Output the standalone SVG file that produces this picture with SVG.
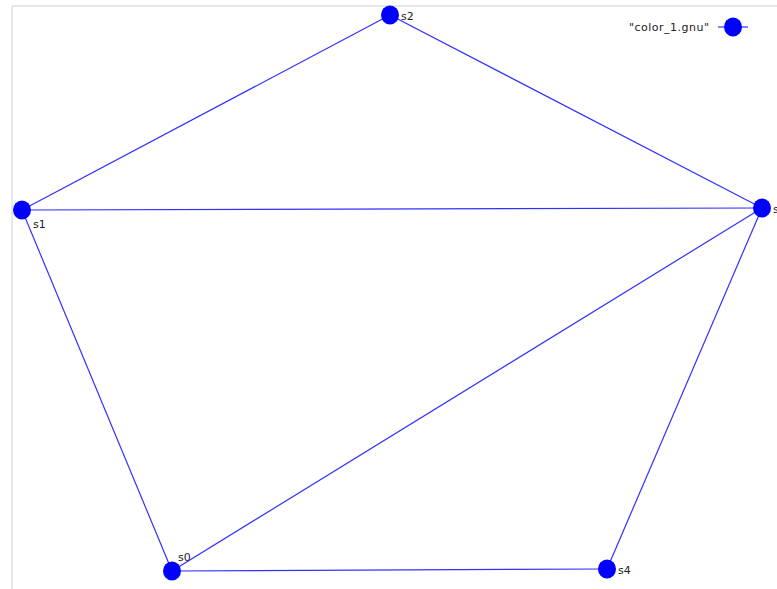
<svg xmlns="http://www.w3.org/2000/svg" width="777" height="589" viewBox="0 0 777 589">
<style>
.edge{stroke:#3030ff;stroke-width:1.2;fill:none}
.node{fill:#0000ff}
.lbl{font-family:"DejaVu Sans","Liberation Sans",sans-serif;font-size:11px;fill:#222}
</style>
<rect x="0" y="0" width="777" height="589" fill="#fff"/>
<path d="M12 6 H777 M12 6 V589" stroke="#d0d0d0" stroke-width="1" fill="none"/>
<g id="connectors">
<line class="edge" x1="22" y1="210" x2="390" y2="15"/>
<line class="edge" x1="390" y1="15" x2="762" y2="208"/>
<line class="edge" x1="22" y1="210" x2="762" y2="208"/>
<line class="edge" x1="22" y1="210" x2="172" y2="571"/>
<line class="edge" x1="172" y1="571" x2="762" y2="208"/>
<line class="edge" x1="762" y1="208" x2="607" y2="569"/>
<line class="edge" x1="172" y1="571" x2="607" y2="569"/>
</g>
<g id="s0"><ellipse class="node" cx="172" cy="571" rx="9" ry="9.5"/><text class="lbl" x="178" y="561">s0</text></g>
<g id="s1"><ellipse class="node" cx="22" cy="210" rx="9" ry="9.5"/><text class="lbl" x="33" y="228">s1</text></g>
<g id="s2"><ellipse class="node" cx="390" cy="15" rx="9" ry="9.5"/><text class="lbl" x="401" y="20">s2</text></g>
<g id="s3"><ellipse class="node" cx="762" cy="208" rx="9" ry="9.5"/><text class="lbl" x="773" y="213">s3</text></g>
<g id="s4"><ellipse class="node" cx="607" cy="569" rx="9" ry="9.5"/><text class="lbl" x="618" y="574">s4</text></g>
<g id="legend">
<text class="lbl" x="709" y="31" text-anchor="end" textLength="80">"color_1.gnu"</text>
<line class="edge" x1="718" y1="27" x2="748" y2="27"/>
<ellipse class="node" cx="733" cy="27" rx="9" ry="9.5"/>
</g>
</svg>
